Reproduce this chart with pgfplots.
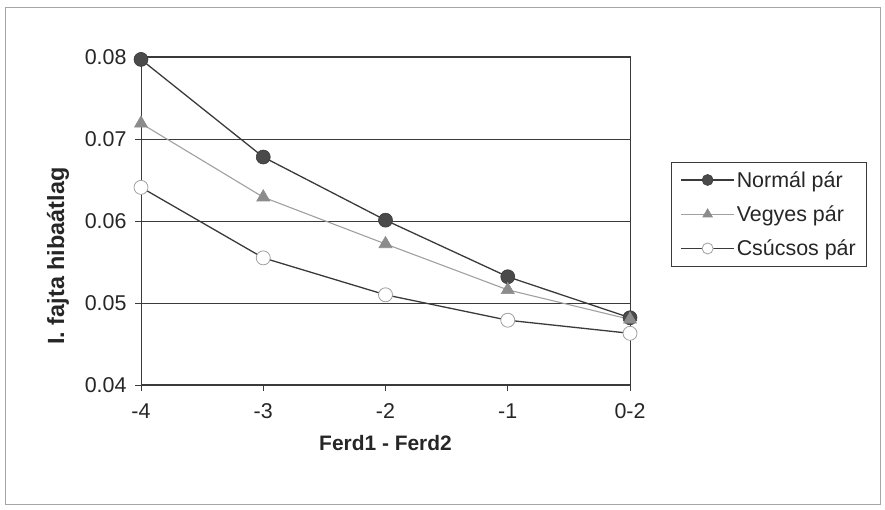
\documentclass[border=0pt]{standalone}
\usepackage{pgfplots}
\pgfplotsset{compat=1.18}
\usepackage{fontspec}
\setmainfont{Liberation Sans}
\definecolor{dk}{HTML}{3A3A3A}
\definecolor{mk}{HTML}{4A4A4A}
\definecolor{lg}{HTML}{A0A0A0}
\definecolor{tg}{HTML}{8C8C8C}
\begin{document}
\begin{tikzpicture}[x=1bp,y=1bp]
\useasboundingbox (0,0) rectangle (885,510);
\draw[gray!70, line width=1bp] (5,5) rectangle (880,502);
\begin{axis}[
  at={(141bp,125bp)}, anchor=south west,
  scale only axis, width=489bp, height=328bp,
  xmin=0, xmax=4, ymin=0.04, ymax=0.08,
  xtick={0,1,2,3,4}, xticklabels={-4,-3,-2,-1,0-2},
  ytick={0.04,0.05,0.06,0.07,0.08},
  scaled y ticks=false,
  yticklabel style={/pgf/number format/fixed, /pgf/number format/fixed zerofill, /pgf/number format/precision=2},
  /pgf/number format/assume math mode=true,
  ymajorgrids, grid style={dk, line width=0.8bp},
  axis line style={dk, line width=1bp},
  tick style={dk, line width=0.8bp},
  tick align=outside, major tick length=6bp,
  xtick pos=bottom, ytick pos=left,
  ticklabel style={font=\fontsize{21.5}{24}\selectfont, text=black!85},
  xticklabel style={yshift=-9bp},
  yticklabel style={xshift=-5bp},
  xlabel={\textbf{Ferd1 - Ferd2}},
  ylabel={\textbf{I. fajta hibaátlag}},
  xlabel style={font=\fontsize{21}{24}\selectfont, text=black!85, yshift=-10bp},
  ylabel style={font=\fontsize{23.5}{26}\selectfont, text=black!85,
    at={(axis description cs:-0.1697,0.393)}, anchor=center},
  legend style={at={(1.084,0.680)}, anchor=north west,
    draw=dk, line width=0.8bp, font=\fontsize{21.5}{24}\selectfont,
    text=black!85, inner xsep=9bp, inner ysep=7bp, row sep=13bp,
    /tikz/every even column/.append style={column sep=4bp}},
  legend cell align=left,
  legend image code/.code={\draw[mark repeat=2,mark phase=2,mark size=5.5bp,#1] plot coordinates {(0bp,0bp) (26.5bp,0bp) (53bp,0bp)};},
]
\addplot[dk, line width=1.3bp, mark=*, mark size=7bp, mark options={fill=mk, draw=dk, line width=0.6bp}]
  coordinates {(0,0.0797) (1,0.0678) (2,0.0601) (3,0.0532) (4,0.0482)};
\addlegendentry{Normál pár}
\addplot[lg, line width=1.1bp, mark=triangle*, mark size=7.5bp, mark options={fill=tg, draw=tg, line width=0.6bp}]
  coordinates {(0,0.0719) (1,0.0629) (2,0.0572) (3,0.0516) (4,0.0480)};
\addlegendentry{Vegyes pár}
\addplot[dk, line width=1.3bp, mark=*, mark size=7bp, mark options={fill=white, draw=lg, line width=0.8bp}]
  coordinates {(0,0.0641) (1,0.0555) (2,0.0510) (3,0.0479) (4,0.0463)};
\addlegendentry{Csúcsos pár}
\end{axis}
\end{tikzpicture}
\end{document}
